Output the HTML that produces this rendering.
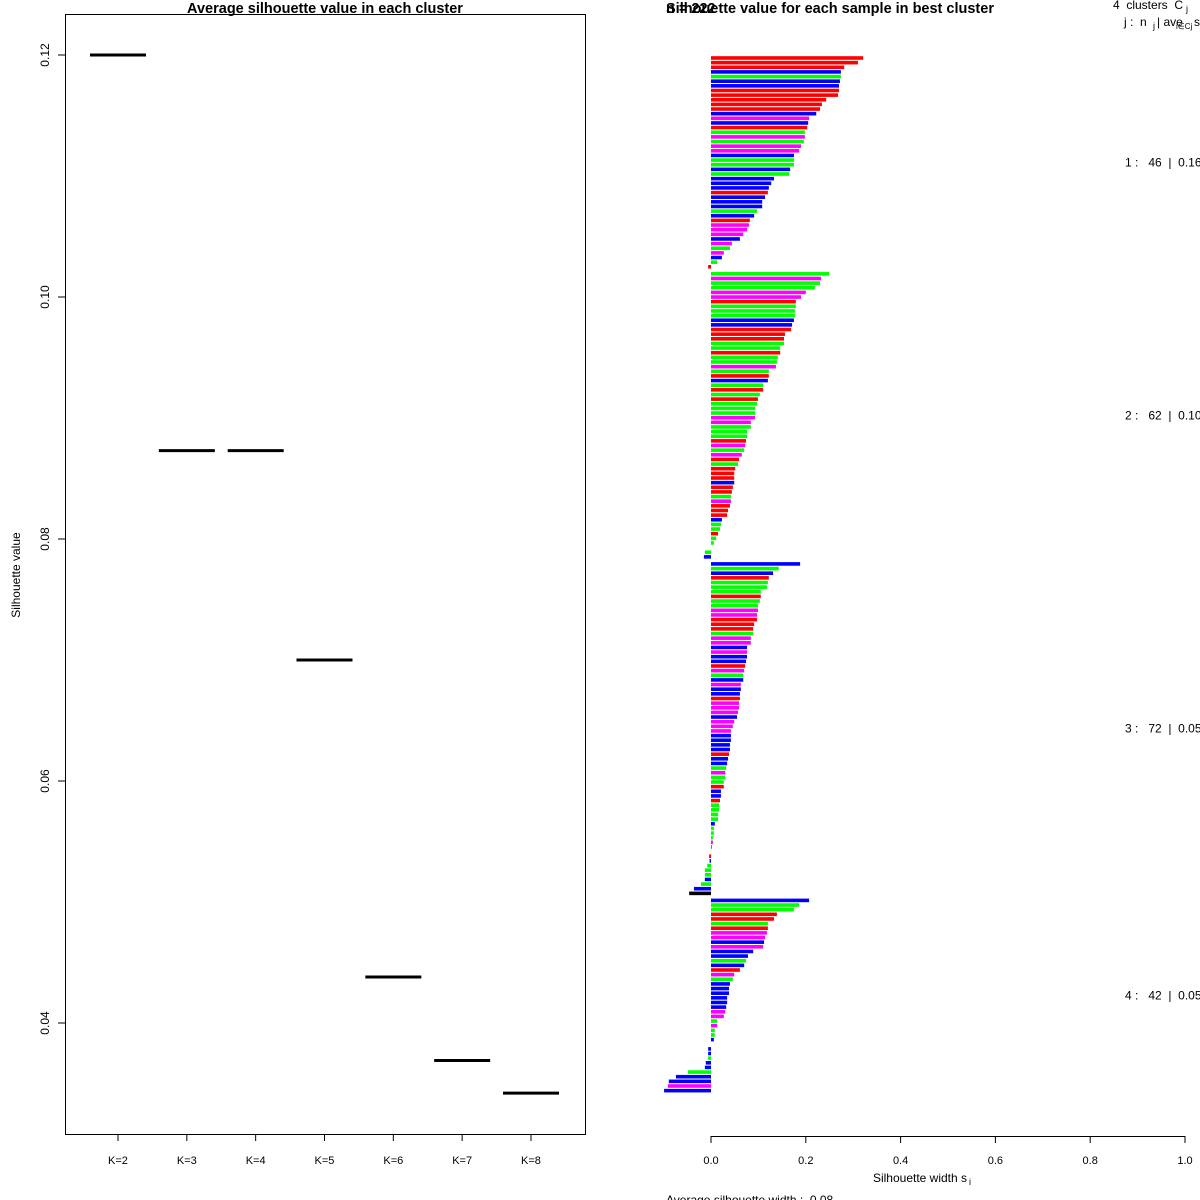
<!DOCTYPE html>
<html><head><meta charset="utf-8">
<style>
html,body{margin:0;padding:0;background:#fff;}
svg{display:block;font-family:"Liberation Sans",Arial,sans-serif;}
text{white-space:pre;}
</style></head>
<body>
<svg id="chart" width="1200" height="1200" viewBox="0 0 1200 1200" xmlns="http://www.w3.org/2000/svg">
<rect width="1200" height="1200" fill="#fff"/>
<g id="left"></g>
<g id="right"></g>
</svg>
<script>
// ---- left chart data ----
const kLabels = ["K=2","K=3","K=4","K=5","K=6","K=7","K=8"];
const avgSil = [0.120, 0.0873, 0.0873, 0.0700, 0.0438, 0.0369, 0.0342];
const yTicks = [0.04, 0.06, 0.08, 0.10, 0.12];
const yTickLabels = ["0.04","0.06","0.08","0.10","0.12"];

// ---- right chart data ----
const clusterNames = ["1","2","3","4"];
const clusterSizes = [46, 62, 72, 42];
const clusterAvg = ["0.16","0.10","0.05","0.05"];
const sil1 = [.321,.310,.281,.274,.274,.272,.270,.270,.268,.243,.234,.230,.222,.207,.205,.203,.198,.198,.196,.190,.186,.175,.175,.175,.167,.165,.133,.127,.122,.120,.114,.108,.108,.097,.091,.082,.080,.076,.068,.061,.044,.040,.027,.023,.013,-.006];
const col1 = "rrrbgbbrrrrrbmbrgmgmmbggbgbbbrbbbgbrmmmbmgmbgr";
const sil2 = [.249,.232,.230,.219,.200,.190,.179,.179,.177,.177,.175,.171,.169,.156,.154,.154,.146,.146,.141,.139,.137,.122,.122,.120,.110,.110,.103,.099,.097,.093,.093,.093,.084,.084,.076,.076,.074,.072,.070,.065,.059,.057,.051,.049,.049,.049,.046,.044,.042,.042,.040,.036,.034,.023,.021,.019,.015,.011,.006,.000,-.013,-.015];
const col2 = "gmggmmrgggbbrrrggrggmgrbgrgrgggmmgggrmgmrgrrrbrrgmrrrbggrggggb";
const sil3 = [.188,.143,.131,.122,.120,.118,.105,.105,.103,.099,.099,.097,.097,.091,.089,.089,.084,.084,.076,.076,.076,.074,.072,.070,.068,.068,.063,.063,.061,.061,.059,.059,.057,.055,.049,.046,.042,.042,.042,.040,.040,.038,.036,.034,.032,.030,.030,.027,.027,.021,.021,.019,.017,.017,.015,.015,.008,.006,.006,.004,.004,.002,.000,-.004,-.003,-.008,-.013,-.013,-.013,-.021,-.036,-.046];
const col3 = "bgbrgggrggmmrrrgmmbmbbrmgbmbbrmmmbmmmbbbbrbbgmggrbbrggggbgggmmgrbgggbgb";
const sil4 = [.207,.186,.175,.139,.133,.120,.120,.118,.114,.112,.110,.089,.078,.074,.070,.061,.049,.046,.040,.038,.038,.034,.034,.032,.030,.027,.013,.013,.008,.008,.006,.000,-.006,-.006,-.006,-.011,-.013,-.049,-.074,-.089,-.091,-.099];
const col4 = "bggrrgrmmbmbbgbrmgbbbbbbmmgmggbbbbgbbgbbmb";

const NS = "http://www.w3.org/2000/svg";
function mk(parent, tag, attrs, text){
  const e = document.createElementNS(NS, tag);
  for (const k in attrs) e.setAttribute(k, attrs[k]);
  if (text !== undefined) e.textContent = text;
  parent.appendChild(e);
  return e;
}
const colorMap = {r:"#ff0000", g:"#00ff00", b:"#0000ff", m:"#ff00ff"};

// ---------- LEFT PANEL ----------
const L = document.getElementById('left');
const yL = v => 55 + (0.12 - v) * 12100;
const xL = i => 118 + i * 68.83;
let e;
e = mk(L,'rect',{x:65.5,y:14.5,width:520,height:1120,fill:'none',stroke:'#000','stroke-width':1});


e = mk(L,'text',{x:325,y:13,'text-anchor':'middle','font-size':14.5,'font-weight':'bold'},'Average silhouette value in each cluster');


e = mk(L,'text',{x:20,y:575,'text-anchor':'middle','font-size':12,transform:'rotate(-90 20 575)'},'Silhouette value');


yTicks.forEach((t,i)=>{
  const y = yL(t);
  e = mk(L,'line',{x1:58,x2:65,y1:y,y2:y,stroke:'#000'});
  
  
  e = mk(L,'text',{x:49,y:y,'text-anchor':'middle','font-size':12,transform:`rotate(-90 49 ${y})`},yTickLabels[i]);
  
  
});
kLabels.forEach((k,i)=>{
  const x = xL(i);
  e = mk(L,'line',{x1:x,x2:x,y1:1134,y2:1141,stroke:'#000'});
  
  
  e = mk(L,'text',{x:x,y:1164,'text-anchor':'middle','font-size':11},k);
  
  
  const y = yL(avgSil[i]);
  e = mk(L,'line',{x1:x-28,x2:x+28,y1:y,y2:y,stroke:'#000','stroke-width':3});
  
  
});

// ---------- RIGHT PANEL ----------
const R = document.getElementById('right');
const x0 = 711, xs = 474;
const xR = v => x0 + v * xs;
e = mk(R,'text',{x:666,y:13,'font-size':14.5,'font-weight':'bold','fill':'#000'},'n = 222');


e = mk(R,'text',{x:666,y:13,'font-size':14.5,'font-weight':'bold'},'Silhouette value for each sample in best cluster');


e = mk(R,'text',{x:1113,y:9,'font-size':12},'4  clusters  C');


mk(R,'text',{x:1186,y:12,'font-size':9},'j');
e = mk(R,'text',{x:1124,y:26,'font-size':12},'j :  n');


mk(R,'text',{x:1153,y:29,'font-size':9},'j');
mk(R,'text',{x:1157,y:26,'font-size':12},'| ave');
mk(R,'text',{x:1176,y:29,'font-size':8},'i∈Cj');
mk(R,'text',{x:1194,y:26,'font-size':12},'s');

const sils = [sil1,sil2,sil3,sil4];
const cols = [col1,col2,col3,col4];
const pitch = 4.64, gapExtra = 2.4, barH = 3.6;
let yc = 58;
sils.forEach((arr,ci)=>{
  const ys = [];
  arr.forEach((v,i)=>{
    const x1 = Math.min(xR(0), xR(v)), w = Math.abs(xR(v)-xR(0));
    e = mk(R,'rect',{x:x1,y:yc-barH/2,width:Math.max(w,0),height:barH,fill:colorMap[cols[ci][i]]});
    
    
    ys.push(yc);
    yc += pitch;
  });
  yc += gapExtra;
  const mid = (ys[0]+ys[ys.length-1])/2;
  e = mk(R,'text',{x:1125,y:mid+4,'font-size':12},`${clusterNames[ci]} :   ${clusterSizes[ci]}  |  ${clusterAvg[ci]}`);
  
  
});

// x axis
e = mk(R,'line',{x1:xR(0),x2:xR(1),y1:1136.5,y2:1136.5,stroke:'#000'});


const xTicks = [0,0.2,0.4,0.6,0.8,1.0];
const xTickLabels = ["0.0","0.2","0.4","0.6","0.8","1.0"];
xTicks.forEach((t,i)=>{
  const x = xR(t);
  e = mk(R,'line',{x1:x,x2:x,y1:1136,y2:1143,stroke:'#000'});
  
  
  e = mk(R,'text',{x:x,y:1164,'text-anchor':'middle','font-size':11},xTickLabels[i]);
  
  
});
e = mk(R,'text',{x:920,y:1182,'text-anchor':'middle','font-size':12},'Silhouette width s');


mk(R,'text',{x:969,y:1185,'font-size':9},'i');
e = mk(R,'text',{x:666,y:1204,'font-size':12},'Average silhouette width :  0.08');


</script>
</body></html>
